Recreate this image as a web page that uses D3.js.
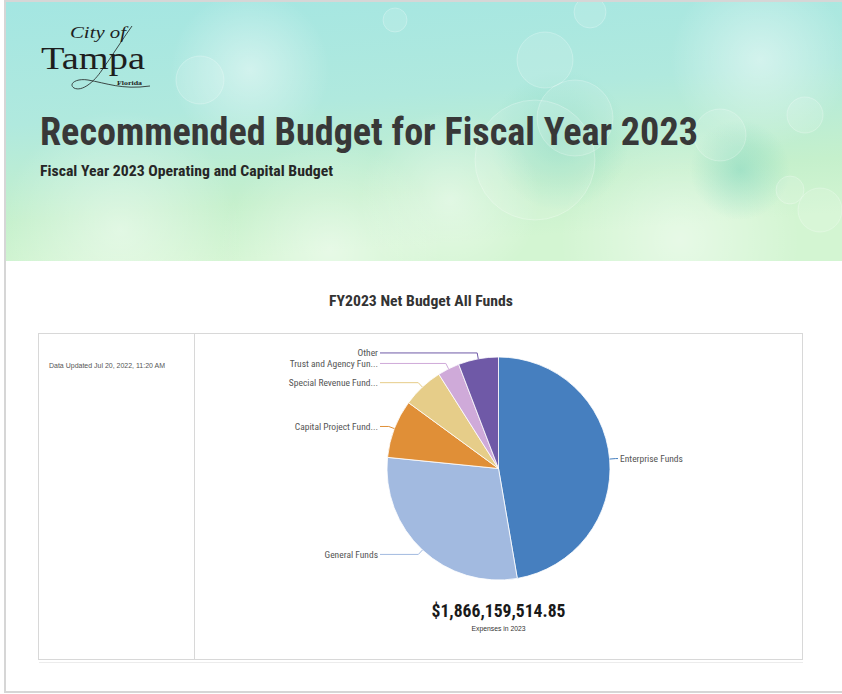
<!DOCTYPE html>
<html>
<head>
<meta charset="utf-8">
<script src="https://cdn.jsdelivr.net/npm/d3@7/dist/d3.min.js"></script>
<style>
  html, body { margin: 0; padding: 0; background: #fff; }
  svg { display: block; }
</style>
</head>
<body>
<svg id="page" width="842" height="694"></svg>
<script>
// ---------- DATA ----------
const categories = ["Enterprise Funds", "General Funds", "Capital Project Fund...", "Special Revenue Fund...", "Trust and Agency Fun...", "Other"];
const values = [882.9, 546.6, 157.9, 111.4, 59.2, 108.4]; // $ millions
const sliceColors = ["#467fbf", "#a2bae0", "#e08f37", "#e6cd89", "#cfaad9", "#6f59a7"];
const pageTitle = "Recommended Budget for Fiscal Year 2023";
const pageSubtitle = "Fiscal Year 2023 Operating and Capital Budget";
const chartTitle = "FY2023 Net Budget All Funds";
const totalLabel = "$1,866,159,514.85";
const totalCaption = "Expenses in 2023";
const updatedText = "Data Updated Jul 20, 2022, 11:20 AM";

// ---------- PAGE ----------
const svg = d3.select("#page");
const defs = svg.append("defs");
const narrow = "'Liberation Sans Narrow', 'Arial Narrow', 'Roboto Condensed', 'Liberation Sans', sans-serif";
const sans = "'Liberation Sans', Arial, sans-serif";

// banner gradient
const g1 = defs.append("linearGradient").attr("id", "bannerGrad").attr("x1", 0).attr("y1", 0).attr("x2", 0.25).attr("y2", 1);
g1.append("stop").attr("offset", "0%").attr("stop-color", "#a4e6e2");
g1.append("stop").attr("offset", "45%").attr("stop-color", "#b0e9de");
g1.append("stop").attr("offset", "80%").attr("stop-color", "#c5f0cc");
g1.append("stop").attr("offset", "100%").attr("stop-color", "#d3f5d2");
const rg = defs.append("radialGradient").attr("id", "glow");
rg.append("stop").attr("offset", "0%").attr("stop-color", "#ffffff").attr("stop-opacity", 0.45);
rg.append("stop").attr("offset", "100%").attr("stop-color", "#ffffff").attr("stop-opacity", 0);
const rg2 = defs.append("radialGradient").attr("id", "teal");
rg2.append("stop").attr("offset", "0%").attr("stop-color", "#6fcfb9").attr("stop-opacity", 0.45);
rg2.append("stop").attr("offset", "100%").attr("stop-color", "#6fcfb9").attr("stop-opacity", 0);
const clip = defs.append("clipPath").attr("id", "bannerClip");
clip.append("rect").attr("x", 6).attr("y", 2).attr("width", 836).attr("height", 259);

// outer frame
svg.append("rect").attr("x", 5).attr("y", 1).attr("width", 850).attr("height", 691)
  .attr("fill", "#fff").attr("stroke", "#d6d6d6").attr("stroke-width", 2);

const banner = svg.append("g").attr("clip-path", "url(#bannerClip)");
banner.append("rect").attr("x", 6).attr("y", 2).attr("width", 836).attr("height", 259).attr("fill", "url(#bannerGrad)");
// soft blobs
[[120, 230, 120, "glow"], [330, 250, 110, "glow"], [560, 140, 70, "teal"], [680, 240, 120, "glow"], [760, 60, 90, "glow"], [250, 70, 80, "glow"], [740, 170, 50, "teal"], [450, 200, 90, "glow"]]
  .forEach(([x, y, r, id]) => banner.append("circle").attr("cx", x).attr("cy", y).attr("r", r).attr("fill", `url(#${id})`));
// bokeh circles
[[200, 80, 24], [545, 60, 28], [535, 160, 60], [575, 118, 38], [720, 135, 26], [805, 115, 18], [590, 12, 16], [820, 210, 22], [790, 190, 14], [395, 20, 12]]
  .forEach(([x, y, r]) => banner.append("circle").attr("cx", x).attr("cy", y).attr("r", r)
    .attr("fill", "#ffffff").attr("fill-opacity", 0.12).attr("stroke", "#ffffff").attr("stroke-opacity", 0.25));

// logo
const logo = svg.append("g").attr("fill", "#1e1e1e");
logo.append("path").attr("d", "M132,26 C122,40 112,56 102,70 C94,82 82,92 74,88 C68,84 76,78 88,80 C106,83 122,90 150,86")
  .attr("fill", "none").attr("stroke", "#1e1e1e").attr("stroke-width", 0.8);
logo.append("text").attr("x", 70).attr("y", 38).attr("font-family", "'Liberation Serif', serif").attr("font-style", "italic")
  .attr("font-size", 16).attr("textLength", 56).attr("lengthAdjust", "spacingAndGlyphs").text("City of");
logo.append("text").attr("x", 41).attr("y", 69).attr("font-family", "'Liberation Serif', serif")
  .attr("font-size", 32).attr("textLength", 104).attr("lengthAdjust", "spacingAndGlyphs").text("Tampa");
logo.append("text").attr("x", 117).attr("y", 85).attr("font-family", "'Liberation Serif', serif").attr("font-weight", "bold")
  .attr("font-size", 7).attr("textLength", 25).attr("lengthAdjust", "spacingAndGlyphs").text("Florida");

// titles
svg.append("text").attr("x", 40).attr("y", 145).attr("font-family", narrow).attr("font-weight", "bold")
  .attr("font-size", 38).attr("fill", "#383838").attr("textLength", 658).attr("lengthAdjust", "spacingAndGlyphs").text(pageTitle);
svg.append("text").attr("x", 40).attr("y", 176).attr("font-family", narrow).attr("font-weight", "bold")
  .attr("font-size", 14).attr("fill", "#262626").attr("textLength", 293).attr("lengthAdjust", "spacingAndGlyphs").text(pageSubtitle);
svg.append("text").attr("x", 421).attr("y", 306).attr("text-anchor", "middle").attr("font-family", narrow).attr("font-weight", "bold")
  .attr("font-size", 15.5).attr("fill", "#333").attr("textLength", 184).attr("lengthAdjust", "spacingAndGlyphs").text(chartTitle);

// chart box
svg.append("rect").attr("x", 39).attr("y", 662).attr("width", 764).attr("height", 1).attr("fill", "#ececec");
svg.append("rect").attr("x", 38.5).attr("y", 333.5).attr("width", 764).attr("height", 326)
  .attr("fill", "#fff").attr("stroke", "#d8d8d8");
svg.append("line").attr("x1", 194.5).attr("x2", 194.5).attr("y1", 334).attr("y2", 659).attr("stroke", "#d8d8d8");
svg.append("text").attr("x", 49).attr("y", 368).attr("font-family", sans).attr("font-size", 7).attr("fill", "#555")
  .attr("textLength", 116).attr("lengthAdjust", "spacingAndGlyphs").text(updatedText);

// ---------- PIE ----------
const cx = 498.5, cy = 468.5, r = 111.5;
const data = categories.map((c, i) => ({ cat: c, value: values[i], color: sliceColors[i] }));
const pie = d3.pie().sort(null).value(d => d.value);
const arcs = pie(data);
const arc = d3.arc().innerRadius(0).outerRadius(r);
const color = d3.scaleOrdinal().domain(categories).range(sliceColors);

const gPie = svg.append("g").attr("transform", `translate(${cx},${cy})`);
gPie.selectAll("path.slice").data(arcs).join("path").attr("class", "slice")
  .attr("d", arc).attr("fill", d => color(d.data.cat)).attr("stroke", "#fff").attr("stroke-width", 0.8);

// labels with leader lines
const labelR = r + 6;
const leftX = 380 - cx, rightX = 618 - cx;
arcs.forEach(d => {
  const a = (d.startAngle + d.endAngle) / 2;
  const px = r * Math.sin(a), py = -r * Math.cos(a);
  const kx = labelR * Math.sin(a), ky = -labelR * Math.cos(a);
  const right = kx > 0;
  const ex = right ? rightX : leftX;
  gPie.append("polyline")
    .attr("points", [[px, py], [kx, ky], [ex, ky]].map(p => p.join(",")).join(" "))
    .attr("fill", "none").attr("stroke", color(d.data.cat)).attr("stroke-width", 1);
  gPie.append("text")
    .attr("x", right ? ex + 2 : ex - 2).attr("y", ky).attr("dy", "0.35em")
    .attr("text-anchor", right ? "start" : "end")
    .attr("font-family", narrow).attr("font-size", 9.5).attr("fill", "#555")
    .text(d.data.cat);
});

// total
svg.append("text").attr("x", 498.5).attr("y", 617).attr("text-anchor", "middle").attr("font-family", narrow)
  .attr("font-weight", "bold").attr("font-size", 19).attr("fill", "#1a1a1a")
  .attr("textLength", 134).attr("lengthAdjust", "spacingAndGlyphs").text(totalLabel);
svg.append("text").attr("x", 498.5).attr("y", 631).attr("text-anchor", "middle").attr("font-family", sans)
  .attr("font-size", 7).attr("fill", "#333").attr("textLength", 54).attr("lengthAdjust", "spacingAndGlyphs").text(totalCaption);
</script>
</body>
</html>
